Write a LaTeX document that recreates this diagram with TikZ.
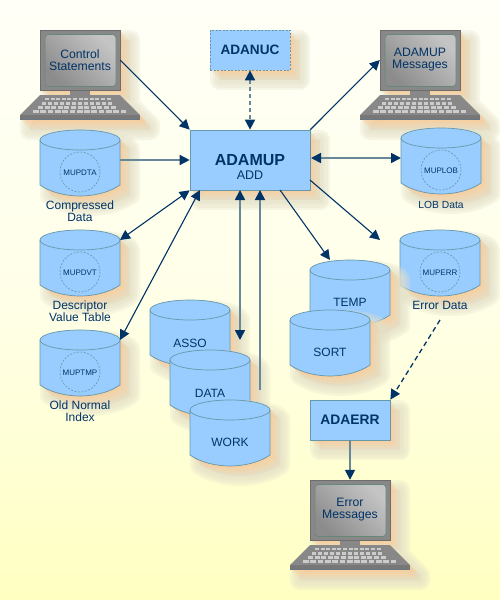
\documentclass[tikz,border=0pt]{standalone}
\usepackage{fontspec}
\setmainfont{Liberation Sans}
\usetikzlibrary{arrows.meta}
\definecolor{ink}{HTML}{003366}
\definecolor{boxfill}{HTML}{99CCFF}
\definecolor{boxline}{HTML}{6699AA}
\definecolor{linkgrey}{HTML}{668899}
\definecolor{scr}{HTML}{888888}
\definecolor{scrline}{HTML}{668877}
\definecolor{keycol}{HTML}{CCCCCC}
\definecolor{fringe}{HTML}{E4E0C8}
\definecolor{glow}{HTML}{FFC890}
\tikzset{
  x=1pt,y=-1pt,
  txt/.style={inner sep=0pt,text=ink,align=center,font=\fontsize{12}{12}\selectfont},
  small/.style={txt,font=\fontsize{8}{8}\selectfont},
  boxnode/.style={draw=boxline,fill=boxfill,line width=.7pt,inner sep=0pt,align=center,text=ink},
  ghost/.style={inner sep=0pt,minimum width=80pt,minimum height=66pt},
  darklink/.style={draw=ink,line width=1.1pt,{Triangle[length=10pt,width=10pt,fill=ink]}-{Triangle[length=10pt,width=10pt,fill=ink]}},
  onelink/.style={draw=ink,line width=1.1pt,-{Triangle[length=10pt,width=10pt,fill=ink]}},
  greylink/.style={draw=linkgrey,line width=1.7pt,-{Triangle[length=10pt,width=10pt,fill=ink,color=ink]}},
  greyboth/.style={draw=linkgrey,line width=1.7pt,{Triangle[length=10pt,width=10pt,fill=ink,color=ink]}-{Triangle[length=10pt,width=10pt,fill=ink,color=ink]}},
}
\newcommand{\softshadow}[1]{%
  \foreach \w/\o in {20/.30,15/.30,10/.30,5/.30}{%
    \path[shift={(10,10)},draw=fringe,fill=fringe,line width=\w pt,line join=round,opacity=\o] #1;}%
  \foreach \s/\o in {10/.10,8/.14,6/.18,4/.24,2/.3}{%
    \fill[shift={(\s,\s)},glow,opacity=\o] #1;}%
}
\def\cylpath{(0,10) .. controls (0,4.5) and (18,0) .. (40,0) .. controls (62,0) and (80,4.5) .. (80,10) -- (80,55) .. controls (70,62) and (55,66) .. (40,66) .. controls (25,66) and (10,62) .. (0,55) -- cycle}
\def\termpath{(0,0) -- (80,0) -- (80,60) -- (50,60) -- (50,65) -- (80,65) -- (100,85) -- (100,90) -- (-20,90) -- (-20,85) -- (0,65) -- (30,65) -- (30,60) -- (0,60) -- cycle}
% name, x, top, inner text
\newcommand{\cyl}[4]{%
  \begin{scope}[shift={(#2,#3)}]
    \softshadow{\cylpath}
    \draw[fill=boxfill,draw=boxline,line width=.7pt] \cylpath;
    \draw[boxline,line width=.7pt] (0,10) .. controls (0,15.5) and (18,20) .. (40,20) .. controls (62,20) and (80,15.5) .. (80,10);
    \node[ghost] (#1) at (40,33) {};
    \coordinate (#1-tr) at (80,10);
    \coordinate (#1-r) at (80,30);
    #4
  \end{scope}}
\newcommand{\dbcircle}[2]{%
  \draw[boxline,line width=.6pt,dash pattern=on 2pt off 1.5pt] (40,42) circle[radius=20];
  \node[small] (#1) at (40,42.5) {#2};}
\definecolor{keybase}{HTML}{777777}
\definecolor{keyedge}{HTML}{667788}
\definecolor{scrlight}{HTML}{C4C4C4}
\definecolor{scrdark}{HTML}{8C8C8C}
\newcommand{\terminal}[4]{%
  \begin{scope}[shift={(#2,#3)}]
    \softshadow{\termpath}
    \fill[scr] (30,60) rectangle (50,65);
    \fill[scr] (0,65) -- (80,65) -- (100,85) -- (-20,85) -- cycle;
    \fill[keybase] (-20,85) rectangle (100,90);
    \draw[keyedge,line width=.7pt] (-20,89.7) -- (100,89.7);
    \foreach \r/\yy/\sx/\p/\n in {0/67.5/5/5.6/12,1/71.8/2/6.0/12,2/76/-2/6.6/12,3/80/-7/7.3/13}{%
      \foreach \k in {1,...,\n}{%
        \fill[keycol] ({\sx+(\k-1)*\p},\yy) rectangle ++(\p-1.6,2.8);}}
    \node[draw=scr!80!black,fill=scr,line width=.4pt,minimum width=80pt,minimum height=60pt,inner sep=0pt] (#1) at (40,30) {};
    \shade[left color=scrlight,right color=scrdark,shading angle=315,rounded corners=3.5pt] (5,4.5) rectangle (76,56.5);
    \draw[scrline,line width=.6pt,rounded corners=3.5pt] (5,4.5) rectangle (76,56.5);
    \node[txt,font=\fontsize{12.2}{12}\selectfont] (#1-t) at (40,30) {#4};
  \end{scope}}
\begin{document}
\begin{tikzpicture}
\useasboundingbox (0,0) rectangle (500,600);
\shade[top color=white!97!yellow,bottom color=yellow!24!white,middle color=yellow!9!white] (0,0) rectangle (500,600);

% terminals
\terminal{ctrl}{40}{30}{Control\\Statements}
\terminal{msgs}{380}{30}{ADAMUP\\Messages}
\terminal{errterm}{310}{480}{Error\\Messages}

% cylinders
\cyl{mupdta}{40}{130}{\dbcircle{mupdtat}{MUPDTA}}
\node[txt] (mupdtal) at (80,211) {Compressed\\Data};
\cyl{mupdvt}{40}{230}{\dbcircle{mupdvtt}{MUPDVT}}
\node[txt] (mupdvtl) at (80,311) {Descriptor\\Value Table};
\cyl{muptmp}{40}{330}{\dbcircle{muptmpt}{MUPTMP}}
\node[txt] (muptmpl) at (80,411) {Old Normal\\Index};
\cyl{muplob}{401}{128}{\dbcircle{muplobt}{MUPLOB}}
\node[txt,font=\fontsize{10.3}{12}\selectfont] (muplobl) at (441,205) {LOB Data};
\cyl{muperr}{400}{230}{\dbcircle{muperrt}{MUPERR}}
\node[txt] (muperrl) at (440,305) {Error Data};

\cyl{temp}{310}{260}{\node[txt] (tempt) at (40,42.5) {TEMP};}
\cyl{sort}{290}{310}{\node[txt] (sortt) at (40,42.5) {SORT};}
\cyl{asso}{150}{300}{\node[txt] (assot) at (40,43) {ASSO};}
\cyl{data}{170}{350}{\node[txt] (datat) at (40,43) {DATA};}
\cyl{work}{190}{400}{\node[txt] (workt) at (40,42.5) {WORK};}

% boxes
\softshadow{(190,130) rectangle (310,190)}
\node[boxnode,minimum width=120pt,minimum height=60pt] (adamup) at (250,160) {};
\node[txt,font=\fontsize{16}{16}\selectfont\bfseries] (adamupt) at (250,160.5) {ADAMUP};
\node[txt,font=\fontsize{12.5}{13}\selectfont] (adamups) at (250,175) {ADD};
\softshadow{(210,30) rectangle (290,70)}
\node[boxnode,dash pattern=on 2pt off 1.5pt,minimum width=80pt,minimum height=40pt,font=\fontsize{13.6}{14}\selectfont\bfseries] (adanuc) at (250,50) {ADANUC};
\softshadow{(310,400) rectangle (390,440)}
\node[boxnode,minimum width=80pt,minimum height=40pt,font=\fontsize{13.8}{14}\selectfont\bfseries] (adaerr) at (350,420) {ADAERR};

% free ends
\coordinate (tempin) at (330,260);
\coordinate (errin) at (380,240);
\coordinate (errout) at (440,320);
\coordinate (assoend) at (240,340);
\coordinate (dataend) at (260,390);
\coordinate (upA) at (240,190);
\coordinate (upB) at (260,190);
\coordinate (outA) at (280,190);
\coordinate (outB) at (310,180);
\coordinate (lobL) at (311,158);
\coordinate (lobR) at (401,158);
\coordinate (cornerB) at (200,190);

% connectors
\draw[onelink] (ctrl.east) -- (adamup.north west);
\draw[greylink] (mupdta-r) -- (adamup.west);
\draw[greyboth,dash pattern=on 4pt off 3pt] (adanuc.south) -- (adamup.north);
\draw[onelink] (adamup.north east) -- (msgs.west);
\draw[greyboth] (lobL) -- (lobR);
\draw[darklink] (adamup.south west) -- (mupdvt-tr);
\draw[darklink] (cornerB) -- (muptmp-tr);
\draw[greyboth] (upA) -- (assoend);
\draw[greylink] (dataend) -- (upB);
\draw[onelink] (outA) -- (tempin);
\draw[onelink] (outB) -- (errin);
\draw[onelink,line width=1.3pt,dash pattern=on 5pt off 3.5pt] (errout) -- (adaerr.north east);
\draw[greylink] (adaerr.south) -- (errterm.north);
\end{tikzpicture}
\end{document}
